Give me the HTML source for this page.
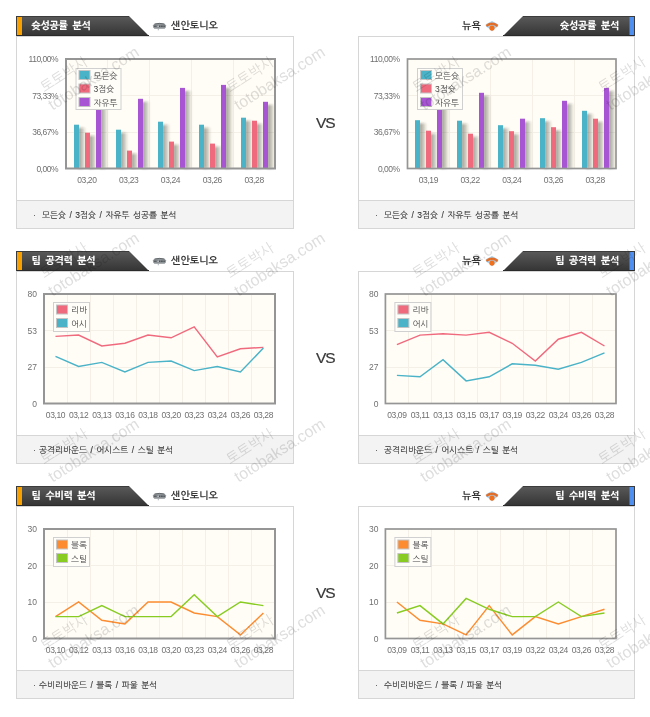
<!DOCTYPE html>
<html lang="ko"><head><meta charset="utf-8"><title>팀 분석</title><style>
html,body{margin:0;padding:0;background:#fff;}
body{width:650px;height:717px;position:relative;overflow:hidden;font-family:"Liberation Sans", "NanumGothic", "Noto Sans CJK KR", sans-serif;}
.hd,.lg,.ch{position:absolute;display:block;}
.ht{position:absolute;font-family:"Liberation Sans", "NanumGothic", "Noto Sans CJK KR", sans-serif;font-weight:800;font-size:10px;line-height:12px;color:#fff;white-space:nowrap;letter-spacing:-0.4px;word-spacing:2.5px;}
.tn{position:absolute;font-family:"Liberation Sans", "NanumGothic", "Noto Sans CJK KR", sans-serif;font-weight:bold;font-size:10px;line-height:12px;color:#333;white-space:nowrap;}
.box{position:absolute;height:191px;border:1px solid #d6d6d6;background:#fff;}
.ft{position:absolute;height:27px;border:1px solid #d6d6d6;background:#f3f3f3;}
.fb{position:absolute;font-family:"Liberation Sans", "NanumGothic", "Noto Sans CJK KR", sans-serif;font-size:9px;line-height:12px;color:#555;}
.fx{position:absolute;font-family:"Liberation Sans", "NanumGothic", "Noto Sans CJK KR", sans-serif;font-size:8.5px;line-height:12px;color:#333;white-space:nowrap;word-spacing:1.15px;-webkit-text-stroke:0.1px #333;}
.vs{position:absolute;left:316px;width:24px;font-family:"Liberation Sans", Arial, sans-serif;font-size:15.5px;line-height:18px;color:#383838;letter-spacing:-1px;-webkit-text-stroke:0.2px #383838;}
text.yl{font-family:"Liberation Sans", Arial, sans-serif;font-size:8.5px;fill:#707070;letter-spacing:-0.5px;}
text.yl2{font-family:"Liberation Sans", Arial, sans-serif;font-size:8.5px;fill:#707070;}
text.xl{font-family:"Liberation Sans", Arial, sans-serif;font-size:8.5px;fill:#707070;letter-spacing:-0.4px;}
text.lt{font-family:"Liberation Sans", "NanumGothic", "Noto Sans CJK KR", sans-serif;font-size:8.5px;fill:#444;}
.wm{position:absolute;width:1px;height:1px;pointer-events:none;}
.wm span{position:absolute;white-space:nowrap;transform-origin:0 0;transform:rotate(-32.5deg);color:#dedede;mix-blend-mode:multiply;}
.w1{left:0;top:36px;font-family:"Liberation Sans", "NanumGothic", "Noto Sans CJK KR", sans-serif;font-size:14px;}
.w2{left:8px;top:54px;font-family:"Liberation Sans", Arial, sans-serif;font-size:16px;}
</style></head>
<body>
<div class="box" style="left:16px;top:36px;width:276px"></div>
<div class="ft" style="left:16px;top:200px;width:276px"></div>
<div class="fb" style="left:33px;top:209px">·</div>
<div class="fx" style="left:42px;top:208.6px">모든슛 / 3점슛 / 자유투 성공률 분석</div>
<div class="box" style="left:358px;top:36px;width:275px"></div>
<div class="ft" style="left:358px;top:200px;width:275px"></div>
<div class="fb" style="left:375px;top:209px">·</div>
<div class="fx" style="left:384px;top:208.6px">모든슛 / 3점슛 / 자유투 성공률 분석</div>
<svg class="hd" style="left:16px;top:16px" width="133" height="20" viewBox="0 0 133 20"><defs><linearGradient id="hg16" x1="0" y1="0" x2="0" y2="1"><stop offset="0" stop-color="#5a5a5a"/><stop offset="1" stop-color="#343434"/></linearGradient></defs><polygon points="0,0 113,0 133,20 0,20" fill="url(#hg16)"/><rect x="0" y="0" width="113" height="1" fill="#3c3c3c"/><rect x="0" y="19" width="133" height="1" fill="#2a2a2a"/><rect x="0" y="0" width="1" height="20" fill="#3a3a3a"/><rect x="1" y="1" width="5" height="18" fill="#f8a000"/></svg>
<div class="ht" style="left:31.5px;top:20px">슛성공률 분석</div>
<svg class="hd" style="left:503px;top:16px" width="132" height="20" viewBox="0 0 132 20"><defs><linearGradient id="hgr16" x1="0" y1="0" x2="0" y2="1"><stop offset="0" stop-color="#5a5a5a"/><stop offset="1" stop-color="#343434"/></linearGradient></defs><polygon points="20,0 132,0 132,20 0,20" fill="url(#hgr16)"/><rect x="20" y="0" width="112" height="1" fill="#3c3c3c"/><rect x="0" y="19" width="132" height="1" fill="#2a2a2a"/><rect x="131" y="0" width="1" height="20" fill="#3a3a3a"/><rect x="126.5" y="1" width="4.5" height="18" fill="#4f8ff0"/></svg>
<div class="ht" style="right:31px;top:20px;text-align:right">슛성공률 분석</div>
<svg class="lg" style="left:152px;top:22px" width="15" height="9" viewBox="0 0 15 9"><path d="M0.9,3.6 Q1.2,1.2 7.5,0.9 Q13.6,1.2 14.1,3.6 Q14.2,6 12.6,6.7 L2.4,6.7 Q0.7,6 0.9,3.6 Z" fill="#8e9397"/><path d="M2.5,2.1 Q7.5,0.6 12.5,2.1" stroke="#5f6468" stroke-width="0.9" fill="none"/><path d="M2.2,4.2 L12.8,4.2" stroke="#4e5357" stroke-width="1.5" stroke-dasharray="1.6,0.7" fill="none"/><circle cx="6" cy="4.2" r="0.8" fill="#d4d9dc"/><rect x="5.8" y="6.5" width="0.9" height="1.8" fill="#a3a9ae"/></svg>
<div class="tn" style="left:171px;top:20px">샌안토니오</div>
<svg class="lg" style="left:484.5px;top:20.5px" width="14" height="11" viewBox="0 0 14 11"><path d="M7,0 L13.2,3.2 L13,5.5 L8.5,8.5 L7,10.6 L5.5,8.5 L1,5.5 L0.8,3.2 Z" fill="#a6d0f2"/><path d="M1.4,5 Q7,0.6 12.6,5" stroke="#e8742c" stroke-width="2.3" fill="none"/><path d="M2.4,4.3 Q7,1.3 11.6,4.3" stroke="#b0532a" stroke-width="0.5" fill="none" stroke-dasharray="1,0.8"/><circle cx="7" cy="7.1" r="2.6" fill="#f0701c"/></svg>
<div class="tn" style="left:462px;top:20px">뉴욕</div>
<div class="vs" style="top:114px">VS</div>
<svg class="ch" style="left:0;top:46px" width="650" height="150" viewBox="0 46 650 150"><defs><linearGradient id="sh" x1="0" y1="0" x2="1" y2="0"><stop offset="0" stop-color="#2a2a1a" stop-opacity="0.42"/><stop offset="0.35" stop-color="#2a2a1a" stop-opacity="0.36"/><stop offset="1" stop-color="#2a2a1a" stop-opacity="0"/></linearGradient><filter id="bl" x="-50%" y="-10%" width="200%" height="120%"><feGaussianBlur stdDeviation="0.9"/></filter></defs><rect x="66" y="59" width="209" height="109.5" fill="#fffdf6"/><line x1="107.5" y1="59" x2="107.5" y2="168.5" stroke="#f4f0e7" stroke-width="1"/><line x1="149.5" y1="59" x2="149.5" y2="168.5" stroke="#f4f0e7" stroke-width="1"/><line x1="191.5" y1="59" x2="191.5" y2="168.5" stroke="#f4f0e7" stroke-width="1"/><line x1="233.5" y1="59" x2="233.5" y2="168.5" stroke="#f4f0e7" stroke-width="1"/><line x1="66" y1="95.5" x2="275" y2="95.5" stroke="#f4f0e7" stroke-width="1"/><line x1="66" y1="132.5" x2="275" y2="132.5" stroke="#f4f0e7" stroke-width="1"/><rect x="78" y="127.7" width="8" height="40.8" fill="url(#sh)" filter="url(#bl)"/><rect x="74" y="124.7" width="5" height="43.8" fill="#4ab3c8"/><rect x="89" y="135.7" width="8" height="32.8" fill="url(#sh)" filter="url(#bl)"/><rect x="85" y="132.7" width="5" height="35.8" fill="#f06a7e"/><rect x="100" y="99.8" width="8" height="68.7" fill="url(#sh)" filter="url(#bl)"/><rect x="96" y="96.8" width="5" height="71.7" fill="#a855d4"/><rect x="120" y="132.7" width="8" height="35.8" fill="url(#sh)" filter="url(#bl)"/><rect x="116" y="129.7" width="5" height="38.8" fill="#4ab3c8"/><rect x="131" y="153.6" width="8" height="14.9" fill="url(#sh)" filter="url(#bl)"/><rect x="127" y="150.6" width="5" height="17.9" fill="#f06a7e"/><rect x="142" y="101.8" width="8" height="66.7" fill="url(#sh)" filter="url(#bl)"/><rect x="138" y="98.8" width="5" height="69.7" fill="#a855d4"/><rect x="162" y="124.7" width="8" height="43.8" fill="url(#sh)" filter="url(#bl)"/><rect x="158" y="121.7" width="5" height="46.8" fill="#4ab3c8"/><rect x="173" y="144.6" width="8" height="23.9" fill="url(#sh)" filter="url(#bl)"/><rect x="169" y="141.6" width="5" height="26.9" fill="#f06a7e"/><rect x="184" y="90.9" width="8" height="77.6" fill="url(#sh)" filter="url(#bl)"/><rect x="180" y="87.9" width="5" height="80.6" fill="#a855d4"/><rect x="203" y="127.7" width="8" height="40.8" fill="url(#sh)" filter="url(#bl)"/><rect x="199" y="124.7" width="5" height="43.8" fill="#4ab3c8"/><rect x="214" y="146.6" width="8" height="21.9" fill="url(#sh)" filter="url(#bl)"/><rect x="210" y="143.6" width="5" height="24.9" fill="#f06a7e"/><rect x="225" y="87.9" width="8" height="80.6" fill="url(#sh)" filter="url(#bl)"/><rect x="221" y="84.9" width="5" height="83.6" fill="#a855d4"/><rect x="245" y="120.7" width="8" height="47.8" fill="url(#sh)" filter="url(#bl)"/><rect x="241" y="117.7" width="5" height="50.8" fill="#4ab3c8"/><rect x="256" y="123.7" width="8" height="44.8" fill="url(#sh)" filter="url(#bl)"/><rect x="252" y="120.7" width="5" height="47.8" fill="#f06a7e"/><rect x="267" y="104.8" width="8" height="63.7" fill="url(#sh)" filter="url(#bl)"/><rect x="263" y="101.8" width="5" height="66.7" fill="#a855d4"/><rect x="66" y="59" width="209" height="109.5" fill="none" stroke="#959595" stroke-width="2"/><text x="58" y="62.0" class="yl" text-anchor="end">110,00%</text><text x="58" y="98.5" class="yl" text-anchor="end">73,33%</text><text x="58" y="135.0" class="yl" text-anchor="end">36,67%</text><text x="58" y="171.5" class="yl" text-anchor="end">0,00%</text><text x="86.9" y="182.7" class="xl" text-anchor="middle">03,20</text><text x="128.7" y="182.7" class="xl" text-anchor="middle">03,23</text><text x="170.5" y="182.7" class="xl" text-anchor="middle">03,24</text><text x="212.3" y="182.7" class="xl" text-anchor="middle">03,26</text><text x="254.1" y="182.7" class="xl" text-anchor="middle">03,28</text><rect x="76.0" y="68.5" width="45" height="41" fill="#fefdf8" stroke="#d0d0d0" stroke-width="1"/><rect x="79.0" y="70.5" width="11" height="9" fill="#4ab3c8" stroke="#c4c4c4" stroke-width="1"/><text x="93.5" y="78.5" class="lt">모든슛</text><rect x="79.0" y="84.0" width="11" height="9" fill="#f06a7e" stroke="#c4c4c4" stroke-width="1"/><text x="93.5" y="92.0" class="lt">3점슛</text><rect x="79.0" y="97.5" width="11" height="9" fill="#a855d4" stroke="#c4c4c4" stroke-width="1"/><text x="93.5" y="105.5" class="lt">자유투</text></svg>
<svg class="ch" style="left:0;top:46px" width="650" height="150" viewBox="0 46 650 150"><defs><linearGradient id="sh" x1="0" y1="0" x2="1" y2="0"><stop offset="0" stop-color="#2a2a1a" stop-opacity="0.42"/><stop offset="0.35" stop-color="#2a2a1a" stop-opacity="0.36"/><stop offset="1" stop-color="#2a2a1a" stop-opacity="0"/></linearGradient><filter id="bl" x="-50%" y="-10%" width="200%" height="120%"><feGaussianBlur stdDeviation="0.9"/></filter></defs><rect x="407.5" y="59" width="208.5" height="109.5" fill="#fffdf6"/><line x1="449.5" y1="59" x2="449.5" y2="168.5" stroke="#f4f0e7" stroke-width="1"/><line x1="490.5" y1="59" x2="490.5" y2="168.5" stroke="#f4f0e7" stroke-width="1"/><line x1="532.5" y1="59" x2="532.5" y2="168.5" stroke="#f4f0e7" stroke-width="1"/><line x1="574.5" y1="59" x2="574.5" y2="168.5" stroke="#f4f0e7" stroke-width="1"/><line x1="407.5" y1="95.5" x2="616" y2="95.5" stroke="#f4f0e7" stroke-width="1"/><line x1="407.5" y1="132.5" x2="616" y2="132.5" stroke="#f4f0e7" stroke-width="1"/><rect x="419" y="123.2" width="8" height="45.3" fill="url(#sh)" filter="url(#bl)"/><rect x="415" y="120.2" width="5" height="48.3" fill="#4ab3c8"/><rect x="430" y="133.7" width="8" height="34.8" fill="url(#sh)" filter="url(#bl)"/><rect x="426" y="130.7" width="5" height="37.8" fill="#f06a7e"/><rect x="441" y="99.8" width="8" height="68.7" fill="url(#sh)" filter="url(#bl)"/><rect x="437" y="96.8" width="5" height="71.7" fill="#a855d4"/><rect x="461" y="123.7" width="8" height="44.8" fill="url(#sh)" filter="url(#bl)"/><rect x="457" y="120.7" width="5" height="47.8" fill="#4ab3c8"/><rect x="472" y="136.7" width="8" height="31.8" fill="url(#sh)" filter="url(#bl)"/><rect x="468" y="133.7" width="5" height="34.8" fill="#f06a7e"/><rect x="483" y="95.8" width="8" height="72.7" fill="url(#sh)" filter="url(#bl)"/><rect x="479" y="92.8" width="5" height="75.7" fill="#a855d4"/><rect x="502" y="128.2" width="8" height="40.3" fill="url(#sh)" filter="url(#bl)"/><rect x="498" y="125.2" width="5" height="43.3" fill="#4ab3c8"/><rect x="513" y="134.2" width="8" height="34.3" fill="url(#sh)" filter="url(#bl)"/><rect x="509" y="131.2" width="5" height="37.3" fill="#f06a7e"/><rect x="524" y="121.7" width="8" height="46.8" fill="url(#sh)" filter="url(#bl)"/><rect x="520" y="118.7" width="5" height="49.8" fill="#a855d4"/><rect x="544" y="121.2" width="8" height="47.3" fill="url(#sh)" filter="url(#bl)"/><rect x="540" y="118.2" width="5" height="50.3" fill="#4ab3c8"/><rect x="555" y="130.2" width="8" height="38.3" fill="url(#sh)" filter="url(#bl)"/><rect x="551" y="127.2" width="5" height="41.3" fill="#f06a7e"/><rect x="566" y="103.8" width="8" height="64.7" fill="url(#sh)" filter="url(#bl)"/><rect x="562" y="100.8" width="5" height="67.7" fill="#a855d4"/><rect x="586" y="113.8" width="8" height="54.7" fill="url(#sh)" filter="url(#bl)"/><rect x="582" y="110.8" width="5" height="57.7" fill="#4ab3c8"/><rect x="597" y="121.7" width="8" height="46.8" fill="url(#sh)" filter="url(#bl)"/><rect x="593" y="118.7" width="5" height="49.8" fill="#f06a7e"/><rect x="608" y="90.9" width="8" height="77.6" fill="url(#sh)" filter="url(#bl)"/><rect x="604" y="87.9" width="5" height="80.6" fill="#a855d4"/><rect x="407.5" y="59" width="208.5" height="109.5" fill="none" stroke="#959595" stroke-width="1.7"/><text x="399.5" y="62.0" class="yl" text-anchor="end">110,00%</text><text x="399.5" y="98.5" class="yl" text-anchor="end">73,33%</text><text x="399.5" y="135.0" class="yl" text-anchor="end">36,67%</text><text x="399.5" y="171.5" class="yl" text-anchor="end">0,00%</text><text x="428.4" y="182.7" class="xl" text-anchor="middle">03,19</text><text x="470.1" y="182.7" class="xl" text-anchor="middle">03,22</text><text x="511.8" y="182.7" class="xl" text-anchor="middle">03,24</text><text x="553.5" y="182.7" class="xl" text-anchor="middle">03,26</text><text x="595.1" y="182.7" class="xl" text-anchor="middle">03,28</text><rect x="417.5" y="68.5" width="45" height="41" fill="#fefdf8" stroke="#d0d0d0" stroke-width="1"/><rect x="420.5" y="70.5" width="11" height="9" fill="#4ab3c8" stroke="#c4c4c4" stroke-width="1"/><text x="435.0" y="78.5" class="lt">모든슛</text><rect x="420.5" y="84.0" width="11" height="9" fill="#f06a7e" stroke="#c4c4c4" stroke-width="1"/><text x="435.0" y="92.0" class="lt">3점슛</text><rect x="420.5" y="97.5" width="11" height="9" fill="#a855d4" stroke="#c4c4c4" stroke-width="1"/><text x="435.0" y="105.5" class="lt">자유투</text></svg>
<div class="box" style="left:16px;top:271px;width:276px"></div>
<div class="ft" style="left:16px;top:435px;width:276px"></div>
<div class="fb" style="left:33px;top:444px">·</div>
<div class="fx" style="left:39px;top:443.6px">공격리바운드 / 어시스트 / 스틸 분석</div>
<div class="box" style="left:358px;top:271px;width:275px"></div>
<div class="ft" style="left:358px;top:435px;width:275px"></div>
<div class="fb" style="left:375px;top:444px">·</div>
<div class="fx" style="left:384px;top:443.6px">공격리바운드 / 어시스트 / 스틸 분석</div>
<svg class="hd" style="left:16px;top:251px" width="133" height="20" viewBox="0 0 133 20"><defs><linearGradient id="hg251" x1="0" y1="0" x2="0" y2="1"><stop offset="0" stop-color="#5a5a5a"/><stop offset="1" stop-color="#343434"/></linearGradient></defs><polygon points="0,0 113,0 133,20 0,20" fill="url(#hg251)"/><rect x="0" y="0" width="113" height="1" fill="#3c3c3c"/><rect x="0" y="19" width="133" height="1" fill="#2a2a2a"/><rect x="0" y="0" width="1" height="20" fill="#3a3a3a"/><rect x="1" y="1" width="5" height="18" fill="#f8a000"/></svg>
<div class="ht" style="left:31.5px;top:255px">팀 공격력 분석</div>
<svg class="hd" style="left:503px;top:251px" width="132" height="20" viewBox="0 0 132 20"><defs><linearGradient id="hgr251" x1="0" y1="0" x2="0" y2="1"><stop offset="0" stop-color="#5a5a5a"/><stop offset="1" stop-color="#343434"/></linearGradient></defs><polygon points="20,0 132,0 132,20 0,20" fill="url(#hgr251)"/><rect x="20" y="0" width="112" height="1" fill="#3c3c3c"/><rect x="0" y="19" width="132" height="1" fill="#2a2a2a"/><rect x="131" y="0" width="1" height="20" fill="#3a3a3a"/><rect x="126.5" y="1" width="4.5" height="18" fill="#4f8ff0"/></svg>
<div class="ht" style="right:31px;top:255px;text-align:right">팀 공격력 분석</div>
<svg class="lg" style="left:152px;top:257px" width="15" height="9" viewBox="0 0 15 9"><path d="M0.9,3.6 Q1.2,1.2 7.5,0.9 Q13.6,1.2 14.1,3.6 Q14.2,6 12.6,6.7 L2.4,6.7 Q0.7,6 0.9,3.6 Z" fill="#8e9397"/><path d="M2.5,2.1 Q7.5,0.6 12.5,2.1" stroke="#5f6468" stroke-width="0.9" fill="none"/><path d="M2.2,4.2 L12.8,4.2" stroke="#4e5357" stroke-width="1.5" stroke-dasharray="1.6,0.7" fill="none"/><circle cx="6" cy="4.2" r="0.8" fill="#d4d9dc"/><rect x="5.8" y="6.5" width="0.9" height="1.8" fill="#a3a9ae"/></svg>
<div class="tn" style="left:171px;top:255px">샌안토니오</div>
<svg class="lg" style="left:484.5px;top:255.5px" width="14" height="11" viewBox="0 0 14 11"><path d="M7,0 L13.2,3.2 L13,5.5 L8.5,8.5 L7,10.6 L5.5,8.5 L1,5.5 L0.8,3.2 Z" fill="#a6d0f2"/><path d="M1.4,5 Q7,0.6 12.6,5" stroke="#e8742c" stroke-width="2.3" fill="none"/><path d="M2.4,4.3 Q7,1.3 11.6,4.3" stroke="#b0532a" stroke-width="0.5" fill="none" stroke-dasharray="1,0.8"/><circle cx="7" cy="7.1" r="2.6" fill="#f0701c"/></svg>
<div class="tn" style="left:462px;top:255px">뉴욕</div>
<div class="vs" style="top:349px">VS</div>
<svg class="ch" style="left:0;top:281px" width="650" height="150" viewBox="0 281 650 150"><rect x="44" y="294" width="231" height="109.5" fill="#fffdf6"/><line x1="67.5" y1="294" x2="67.5" y2="403.5" stroke="#f4f0e7" stroke-width="1"/><line x1="90.5" y1="294" x2="90.5" y2="403.5" stroke="#f4f0e7" stroke-width="1"/><line x1="113.5" y1="294" x2="113.5" y2="403.5" stroke="#f4f0e7" stroke-width="1"/><line x1="136.5" y1="294" x2="136.5" y2="403.5" stroke="#f4f0e7" stroke-width="1"/><line x1="159.5" y1="294" x2="159.5" y2="403.5" stroke="#f4f0e7" stroke-width="1"/><line x1="182.5" y1="294" x2="182.5" y2="403.5" stroke="#f4f0e7" stroke-width="1"/><line x1="205.5" y1="294" x2="205.5" y2="403.5" stroke="#f4f0e7" stroke-width="1"/><line x1="228.5" y1="294" x2="228.5" y2="403.5" stroke="#f4f0e7" stroke-width="1"/><line x1="251.5" y1="294" x2="251.5" y2="403.5" stroke="#f4f0e7" stroke-width="1"/><line x1="44" y1="330.5" x2="275" y2="330.5" stroke="#f4f0e7" stroke-width="1"/><line x1="44" y1="367.5" x2="275" y2="367.5" stroke="#f4f0e7" stroke-width="1"/><polyline points="55.5,336.4 78.6,335.1 101.8,346.0 124.9,343.3 148.0,335.1 171.1,337.8 194.2,326.9 217.3,357.0 240.4,348.8 263.4,347.4" fill="none" stroke="#f06a7e" stroke-width="1.45" stroke-linejoin="miter"/><polyline points="55.5,356.3 78.6,366.5 101.8,362.4 124.9,372.0 148.0,362.4 171.1,361.1 194.2,370.6 217.3,366.5 240.4,372.0 263.4,348.1" fill="none" stroke="#4ab3c8" stroke-width="1.45" stroke-linejoin="miter"/><rect x="44" y="294" width="231" height="109.5" fill="none" stroke="#959595" stroke-width="2"/><text x="37" y="297.0" class="yl2" text-anchor="end">80</text><text x="37" y="333.5" class="yl2" text-anchor="end">53</text><text x="37" y="370.0" class="yl2" text-anchor="end">27</text><text x="37" y="406.5" class="yl2" text-anchor="end">0</text><text x="55.5" y="417.7" class="xl" text-anchor="middle">03,10</text><text x="78.6" y="417.7" class="xl" text-anchor="middle">03,12</text><text x="101.8" y="417.7" class="xl" text-anchor="middle">03,13</text><text x="124.9" y="417.7" class="xl" text-anchor="middle">03,16</text><text x="148.0" y="417.7" class="xl" text-anchor="middle">03,18</text><text x="171.1" y="417.7" class="xl" text-anchor="middle">03,20</text><text x="194.2" y="417.7" class="xl" text-anchor="middle">03,23</text><text x="217.3" y="417.7" class="xl" text-anchor="middle">03,24</text><text x="240.4" y="417.7" class="xl" text-anchor="middle">03,26</text><text x="263.4" y="417.7" class="xl" text-anchor="middle">03,28</text><rect x="53.5" y="302.5" width="36" height="29" fill="#fefdf8" stroke="#d0d0d0" stroke-width="1"/><rect x="56.5" y="305.0" width="11" height="9" fill="#f06a7e" stroke="#c4c4c4" stroke-width="1"/><text x="71" y="313.0" class="lt">리바</text><rect x="56.5" y="318.5" width="11" height="9" fill="#4ab3c8" stroke="#c4c4c4" stroke-width="1"/><text x="71" y="326.5" class="lt">어시</text></svg>
<svg class="ch" style="left:0;top:281px" width="650" height="150" viewBox="0 281 650 150"><rect x="385.4" y="294" width="230.60000000000002" height="109.5" fill="#fffdf6"/><line x1="408.5" y1="294" x2="408.5" y2="403.5" stroke="#f4f0e7" stroke-width="1"/><line x1="431.5" y1="294" x2="431.5" y2="403.5" stroke="#f4f0e7" stroke-width="1"/><line x1="454.5" y1="294" x2="454.5" y2="403.5" stroke="#f4f0e7" stroke-width="1"/><line x1="477.5" y1="294" x2="477.5" y2="403.5" stroke="#f4f0e7" stroke-width="1"/><line x1="500.5" y1="294" x2="500.5" y2="403.5" stroke="#f4f0e7" stroke-width="1"/><line x1="523.5" y1="294" x2="523.5" y2="403.5" stroke="#f4f0e7" stroke-width="1"/><line x1="546.5" y1="294" x2="546.5" y2="403.5" stroke="#f4f0e7" stroke-width="1"/><line x1="569.5" y1="294" x2="569.5" y2="403.5" stroke="#f4f0e7" stroke-width="1"/><line x1="592.5" y1="294" x2="592.5" y2="403.5" stroke="#f4f0e7" stroke-width="1"/><line x1="385.4" y1="330.5" x2="616" y2="330.5" stroke="#f4f0e7" stroke-width="1"/><line x1="385.4" y1="367.5" x2="616" y2="367.5" stroke="#f4f0e7" stroke-width="1"/><polyline points="396.9,344.6 420.0,335.1 443.0,333.7 466.1,335.1 489.2,332.3 512.2,343.3 535.3,361.1 558.3,339.2 581.4,332.3 604.5,346.0" fill="none" stroke="#f06a7e" stroke-width="1.45" stroke-linejoin="miter"/><polyline points="396.9,375.4 420.0,376.8 443.0,359.7 466.1,380.9 489.2,376.8 512.2,363.8 535.3,365.2 558.3,369.3 581.4,362.4 604.5,352.9" fill="none" stroke="#4ab3c8" stroke-width="1.45" stroke-linejoin="miter"/><rect x="385.4" y="294" width="230.60000000000002" height="109.5" fill="none" stroke="#959595" stroke-width="1.7"/><text x="378.4" y="297.0" class="yl2" text-anchor="end">80</text><text x="378.4" y="333.5" class="yl2" text-anchor="end">53</text><text x="378.4" y="370.0" class="yl2" text-anchor="end">27</text><text x="378.4" y="406.5" class="yl2" text-anchor="end">0</text><text x="396.9" y="417.7" class="xl" text-anchor="middle">03,09</text><text x="420.0" y="417.7" class="xl" text-anchor="middle">03,11</text><text x="443.0" y="417.7" class="xl" text-anchor="middle">03,13</text><text x="466.1" y="417.7" class="xl" text-anchor="middle">03,15</text><text x="489.2" y="417.7" class="xl" text-anchor="middle">03,17</text><text x="512.2" y="417.7" class="xl" text-anchor="middle">03,19</text><text x="535.3" y="417.7" class="xl" text-anchor="middle">03,22</text><text x="558.3" y="417.7" class="xl" text-anchor="middle">03,24</text><text x="581.4" y="417.7" class="xl" text-anchor="middle">03,26</text><text x="604.5" y="417.7" class="xl" text-anchor="middle">03,28</text><rect x="394.9" y="302.5" width="36" height="29" fill="#fefdf8" stroke="#d0d0d0" stroke-width="1"/><rect x="397.9" y="305.0" width="11" height="9" fill="#f06a7e" stroke="#c4c4c4" stroke-width="1"/><text x="412.4" y="313.0" class="lt">리바</text><rect x="397.9" y="318.5" width="11" height="9" fill="#4ab3c8" stroke="#c4c4c4" stroke-width="1"/><text x="412.4" y="326.5" class="lt">어시</text></svg>
<div class="box" style="left:16px;top:506px;width:276px"></div>
<div class="ft" style="left:16px;top:670px;width:276px"></div>
<div class="fb" style="left:33px;top:679px">·</div>
<div class="fx" style="left:39px;top:678.6px">수비리바운드 / 블록 / 파울 분석</div>
<div class="box" style="left:358px;top:506px;width:275px"></div>
<div class="ft" style="left:358px;top:670px;width:275px"></div>
<div class="fb" style="left:375px;top:679px">·</div>
<div class="fx" style="left:384px;top:678.6px">수비리바운드 / 블록 / 파울 분석</div>
<svg class="hd" style="left:16px;top:486px" width="133" height="20" viewBox="0 0 133 20"><defs><linearGradient id="hg486" x1="0" y1="0" x2="0" y2="1"><stop offset="0" stop-color="#5a5a5a"/><stop offset="1" stop-color="#343434"/></linearGradient></defs><polygon points="0,0 113,0 133,20 0,20" fill="url(#hg486)"/><rect x="0" y="0" width="113" height="1" fill="#3c3c3c"/><rect x="0" y="19" width="133" height="1" fill="#2a2a2a"/><rect x="0" y="0" width="1" height="20" fill="#3a3a3a"/><rect x="1" y="1" width="5" height="18" fill="#f8a000"/></svg>
<div class="ht" style="left:31.5px;top:490px">팀 수비력 분석</div>
<svg class="hd" style="left:503px;top:486px" width="132" height="20" viewBox="0 0 132 20"><defs><linearGradient id="hgr486" x1="0" y1="0" x2="0" y2="1"><stop offset="0" stop-color="#5a5a5a"/><stop offset="1" stop-color="#343434"/></linearGradient></defs><polygon points="20,0 132,0 132,20 0,20" fill="url(#hgr486)"/><rect x="20" y="0" width="112" height="1" fill="#3c3c3c"/><rect x="0" y="19" width="132" height="1" fill="#2a2a2a"/><rect x="131" y="0" width="1" height="20" fill="#3a3a3a"/><rect x="126.5" y="1" width="4.5" height="18" fill="#4f8ff0"/></svg>
<div class="ht" style="right:31px;top:490px;text-align:right">팀 수비력 분석</div>
<svg class="lg" style="left:152px;top:492px" width="15" height="9" viewBox="0 0 15 9"><path d="M0.9,3.6 Q1.2,1.2 7.5,0.9 Q13.6,1.2 14.1,3.6 Q14.2,6 12.6,6.7 L2.4,6.7 Q0.7,6 0.9,3.6 Z" fill="#8e9397"/><path d="M2.5,2.1 Q7.5,0.6 12.5,2.1" stroke="#5f6468" stroke-width="0.9" fill="none"/><path d="M2.2,4.2 L12.8,4.2" stroke="#4e5357" stroke-width="1.5" stroke-dasharray="1.6,0.7" fill="none"/><circle cx="6" cy="4.2" r="0.8" fill="#d4d9dc"/><rect x="5.8" y="6.5" width="0.9" height="1.8" fill="#a3a9ae"/></svg>
<div class="tn" style="left:171px;top:490px">샌안토니오</div>
<svg class="lg" style="left:484.5px;top:490.5px" width="14" height="11" viewBox="0 0 14 11"><path d="M7,0 L13.2,3.2 L13,5.5 L8.5,8.5 L7,10.6 L5.5,8.5 L1,5.5 L0.8,3.2 Z" fill="#a6d0f2"/><path d="M1.4,5 Q7,0.6 12.6,5" stroke="#e8742c" stroke-width="2.3" fill="none"/><path d="M2.4,4.3 Q7,1.3 11.6,4.3" stroke="#b0532a" stroke-width="0.5" fill="none" stroke-dasharray="1,0.8"/><circle cx="7" cy="7.1" r="2.6" fill="#f0701c"/></svg>
<div class="tn" style="left:462px;top:490px">뉴욕</div>
<div class="vs" style="top:584px">VS</div>
<svg class="ch" style="left:0;top:516px" width="650" height="150" viewBox="0 516 650 150"><rect x="44" y="529" width="231" height="109.5" fill="#fffdf6"/><line x1="67.5" y1="529" x2="67.5" y2="638.5" stroke="#f4f0e7" stroke-width="1"/><line x1="90.5" y1="529" x2="90.5" y2="638.5" stroke="#f4f0e7" stroke-width="1"/><line x1="113.5" y1="529" x2="113.5" y2="638.5" stroke="#f4f0e7" stroke-width="1"/><line x1="136.5" y1="529" x2="136.5" y2="638.5" stroke="#f4f0e7" stroke-width="1"/><line x1="159.5" y1="529" x2="159.5" y2="638.5" stroke="#f4f0e7" stroke-width="1"/><line x1="182.5" y1="529" x2="182.5" y2="638.5" stroke="#f4f0e7" stroke-width="1"/><line x1="205.5" y1="529" x2="205.5" y2="638.5" stroke="#f4f0e7" stroke-width="1"/><line x1="228.5" y1="529" x2="228.5" y2="638.5" stroke="#f4f0e7" stroke-width="1"/><line x1="251.5" y1="529" x2="251.5" y2="638.5" stroke="#f4f0e7" stroke-width="1"/><line x1="44" y1="565.5" x2="275" y2="565.5" stroke="#f4f0e7" stroke-width="1"/><line x1="44" y1="602.5" x2="275" y2="602.5" stroke="#f4f0e7" stroke-width="1"/><polyline points="55.5,616.6 78.6,602.0 101.8,620.2 124.9,623.9 148.0,602.0 171.1,602.0 194.2,613.0 217.3,616.6 240.4,634.9 263.4,613.0" fill="none" stroke="#fd8c30" stroke-width="1.45" stroke-linejoin="miter"/><polyline points="55.5,616.6 78.6,616.6 101.8,605.6 124.9,616.6 148.0,616.6 171.1,616.6 194.2,594.7 217.3,616.6 240.4,602.0 263.4,605.6" fill="none" stroke="#88cc22" stroke-width="1.45" stroke-linejoin="miter"/><rect x="44" y="529" width="231" height="109.5" fill="none" stroke="#959595" stroke-width="2"/><text x="37" y="532.0" class="yl2" text-anchor="end">30</text><text x="37" y="568.5" class="yl2" text-anchor="end">20</text><text x="37" y="605.0" class="yl2" text-anchor="end">10</text><text x="37" y="641.5" class="yl2" text-anchor="end">0</text><text x="55.5" y="652.7" class="xl" text-anchor="middle">03,10</text><text x="78.6" y="652.7" class="xl" text-anchor="middle">03,12</text><text x="101.8" y="652.7" class="xl" text-anchor="middle">03,13</text><text x="124.9" y="652.7" class="xl" text-anchor="middle">03,16</text><text x="148.0" y="652.7" class="xl" text-anchor="middle">03,18</text><text x="171.1" y="652.7" class="xl" text-anchor="middle">03,20</text><text x="194.2" y="652.7" class="xl" text-anchor="middle">03,23</text><text x="217.3" y="652.7" class="xl" text-anchor="middle">03,24</text><text x="240.4" y="652.7" class="xl" text-anchor="middle">03,26</text><text x="263.4" y="652.7" class="xl" text-anchor="middle">03,28</text><rect x="53.5" y="537.5" width="36" height="29" fill="#fefdf8" stroke="#d0d0d0" stroke-width="1"/><rect x="56.5" y="540.0" width="11" height="9" fill="#fd8c30" stroke="#c4c4c4" stroke-width="1"/><text x="71" y="548.0" class="lt">블록</text><rect x="56.5" y="553.5" width="11" height="9" fill="#88cc22" stroke="#c4c4c4" stroke-width="1"/><text x="71" y="561.5" class="lt">스틸</text></svg>
<svg class="ch" style="left:0;top:516px" width="650" height="150" viewBox="0 516 650 150"><rect x="385.4" y="529" width="230.60000000000002" height="109.5" fill="#fffdf6"/><line x1="408.5" y1="529" x2="408.5" y2="638.5" stroke="#f4f0e7" stroke-width="1"/><line x1="431.5" y1="529" x2="431.5" y2="638.5" stroke="#f4f0e7" stroke-width="1"/><line x1="454.5" y1="529" x2="454.5" y2="638.5" stroke="#f4f0e7" stroke-width="1"/><line x1="477.5" y1="529" x2="477.5" y2="638.5" stroke="#f4f0e7" stroke-width="1"/><line x1="500.5" y1="529" x2="500.5" y2="638.5" stroke="#f4f0e7" stroke-width="1"/><line x1="523.5" y1="529" x2="523.5" y2="638.5" stroke="#f4f0e7" stroke-width="1"/><line x1="546.5" y1="529" x2="546.5" y2="638.5" stroke="#f4f0e7" stroke-width="1"/><line x1="569.5" y1="529" x2="569.5" y2="638.5" stroke="#f4f0e7" stroke-width="1"/><line x1="592.5" y1="529" x2="592.5" y2="638.5" stroke="#f4f0e7" stroke-width="1"/><line x1="385.4" y1="565.5" x2="616" y2="565.5" stroke="#f4f0e7" stroke-width="1"/><line x1="385.4" y1="602.5" x2="616" y2="602.5" stroke="#f4f0e7" stroke-width="1"/><polyline points="396.9,602.0 420.0,620.2 443.0,623.9 466.1,634.9 489.2,605.6 512.2,634.9 535.3,616.6 558.3,623.9 581.4,616.6 604.5,609.3" fill="none" stroke="#fd8c30" stroke-width="1.45" stroke-linejoin="miter"/><polyline points="396.9,613.0 420.0,605.6 443.0,623.9 466.1,598.4 489.2,609.3 512.2,616.6 535.3,616.6 558.3,602.0 581.4,616.6 604.5,613.0" fill="none" stroke="#88cc22" stroke-width="1.45" stroke-linejoin="miter"/><rect x="385.4" y="529" width="230.60000000000002" height="109.5" fill="none" stroke="#959595" stroke-width="1.7"/><text x="378.4" y="532.0" class="yl2" text-anchor="end">30</text><text x="378.4" y="568.5" class="yl2" text-anchor="end">20</text><text x="378.4" y="605.0" class="yl2" text-anchor="end">10</text><text x="378.4" y="641.5" class="yl2" text-anchor="end">0</text><text x="396.9" y="652.7" class="xl" text-anchor="middle">03,09</text><text x="420.0" y="652.7" class="xl" text-anchor="middle">03,11</text><text x="443.0" y="652.7" class="xl" text-anchor="middle">03,13</text><text x="466.1" y="652.7" class="xl" text-anchor="middle">03,15</text><text x="489.2" y="652.7" class="xl" text-anchor="middle">03,17</text><text x="512.2" y="652.7" class="xl" text-anchor="middle">03,19</text><text x="535.3" y="652.7" class="xl" text-anchor="middle">03,22</text><text x="558.3" y="652.7" class="xl" text-anchor="middle">03,24</text><text x="581.4" y="652.7" class="xl" text-anchor="middle">03,26</text><text x="604.5" y="652.7" class="xl" text-anchor="middle">03,28</text><rect x="394.9" y="537.5" width="36" height="29" fill="#fefdf8" stroke="#d0d0d0" stroke-width="1"/><rect x="397.9" y="540.0" width="11" height="9" fill="#fd8c30" stroke="#c4c4c4" stroke-width="1"/><text x="412.4" y="548.0" class="lt">블록</text><rect x="397.9" y="553.5" width="11" height="9" fill="#88cc22" stroke="#c4c4c4" stroke-width="1"/><text x="412.4" y="561.5" class="lt">스틸</text></svg>
<div class="wm" style="left:37px;top:45px"><span class="w1">토토박사</span><span class="w2">totobaksa.com</span></div>
<div class="wm" style="left:223px;top:45px"><span class="w1">토토박사</span><span class="w2">totobaksa.com</span></div>
<div class="wm" style="left:409px;top:45px"><span class="w1">토토박사</span><span class="w2">totobaksa.com</span></div>
<div class="wm" style="left:595px;top:45px"><span class="w1">토토박사</span><span class="w2">totobaksa.com</span></div>
<div class="wm" style="left:37px;top:231px"><span class="w1">토토박사</span><span class="w2">totobaksa.com</span></div>
<div class="wm" style="left:223px;top:231px"><span class="w1">토토박사</span><span class="w2">totobaksa.com</span></div>
<div class="wm" style="left:409px;top:231px"><span class="w1">토토박사</span><span class="w2">totobaksa.com</span></div>
<div class="wm" style="left:595px;top:231px"><span class="w1">토토박사</span><span class="w2">totobaksa.com</span></div>
<div class="wm" style="left:37px;top:417px"><span class="w1">토토박사</span><span class="w2">totobaksa.com</span></div>
<div class="wm" style="left:223px;top:417px"><span class="w1">토토박사</span><span class="w2">totobaksa.com</span></div>
<div class="wm" style="left:409px;top:417px"><span class="w1">토토박사</span><span class="w2">totobaksa.com</span></div>
<div class="wm" style="left:595px;top:417px"><span class="w1">토토박사</span><span class="w2">totobaksa.com</span></div>
<div class="wm" style="left:37px;top:603px"><span class="w1">토토박사</span><span class="w2">totobaksa.com</span></div>
<div class="wm" style="left:223px;top:603px"><span class="w1">토토박사</span><span class="w2">totobaksa.com</span></div>
<div class="wm" style="left:409px;top:603px"><span class="w1">토토박사</span><span class="w2">totobaksa.com</span></div>
<div class="wm" style="left:595px;top:603px"><span class="w1">토토박사</span><span class="w2">totobaksa.com</span></div>
</body></html>
